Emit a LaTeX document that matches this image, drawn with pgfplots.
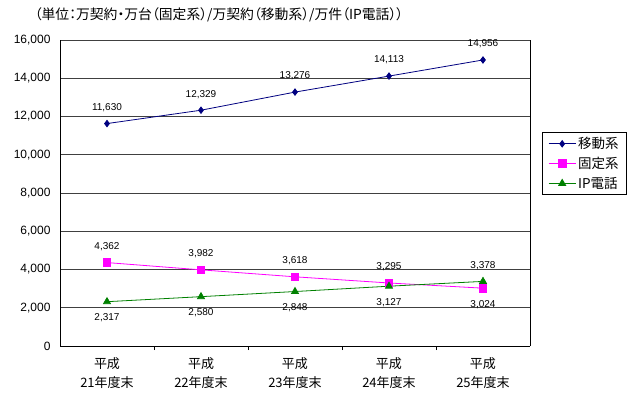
\documentclass[border=0pt]{standalone}
\usepackage{pgfplots}
\usepackage{pgfplotstable}
\pgfplotsset{compat=1.18}
\usepackage{fontspec}
\setmainfont{Liberation Sans}
\newfontfamily\cjk{Noto Sans CJK JP}
\newfontfamily\cjkp[RawFeature=+palt]{Noto Sans CJK JP}
\definecolor{mnavy}{RGB}{0,0,128}
\definecolor{mmag}{RGB}{255,0,255}
\definecolor{mgreen}{RGB}{0,128,0}

\pgfplotstableread{
x y pos
0 11630 1
1 12329 1
2 13276 1
3 14113 1
4 14956 1
}\mobile
\pgfplotstableread{
x y pos
0 4362 1
1 3982 1
2 3618 1
3 3295 1
4 3024 -1
}\fixed
\pgfplotstableread{
x y pos
0 2317 -1
1 2580 -1
2 2848 -1
3 3127 -1
4 3378 1
}\ipphone

\begin{document}
\begin{tikzpicture}[x=1pt,y=1pt]
\useasboundingbox (0,0) rectangle (640,399);
\begin{axis}[
  at={(60pt,53pt)}, anchor=south west,
  width=470pt, height=306pt, scale only axis,
  xmin=-0.5, xmax=4.5, ymin=0, ymax=16000,
  xtick={0,1,2,3,4},
  xticklabels={{平成\\21年度末},{平成\\22年度末},{平成\\23年度末},{平成\\24年度末},{平成\\25年度末}},
  xticklabel style={align=center, font=\cjk\fontsize{13}{19}\selectfont, yshift=-8pt},
  minor xtick={0.5,1.5,2.5,3.5},
  major tick length=0pt, minor tick length=4pt, tick align=outside,
  minor tick style={black, line width=0.6pt},
  ytick={0,2000,...,16000},
  scaled y ticks=false,
  yticklabel style={font=\fontsize{12}{14}\selectfont, xshift=-6pt},
  /pgf/number format/.cd, 1000 sep={,}, fixed, assume math mode=true,
  /pgfplots/.cd,
  ymajorgrids, grid style={black!75, line width=0.6pt},
  axis line style={black, line width=0.7pt},
  axis y line*=left, axis x line*=bottom,
  clip=false,
  nodes near coords,
  visualization depends on={\thisrow{pos}\as\pos},
  nodes near coords style={anchor=center, yshift=\pos*16pt, text=black, font=\fontsize{10}{12}\selectfont},
  legend style={at={(1.0255,0.699)}, anchor=north west, draw=black, line width=0.6pt,
    font=\cjk\fontsize{13.5}{15}\selectfont, inner xsep=6pt, inner ysep=3pt,
    row sep=3pt, cells={anchor=west}},
  legend image code/.code={\draw[mark repeat=2,mark phase=2] plot coordinates {(0pt,0pt)(13.5pt,0pt)(27pt,0pt)};},
]
\draw[black, line width=0.7pt] (axis cs:4.5,0) -- (axis cs:4.5,16000);
\addplot[mnavy, line width=0.8pt, mark=diamond*, mark size=3.2pt, mark options={fill=mnavy}] table[x=x,y=y] {\mobile};
\addlegendentry{移動系}
\addplot[mmag, line width=0.8pt, mark=square*, mark size=3.8pt, mark options={fill=mmag}] table[x=x,y=y] {\fixed};
\addlegendentry{固定系}
\addplot[mgreen, line width=0.8pt, mark=triangle*, mark size=4pt, mark options={fill=mgreen}] table[x=x,y=y] {\ipphone};
\addlegendentry{IP電話}
\end{axis}
\node[font=\cjkp\fontsize{13.8}{15}\selectfont] at (219,384) {（単位：万契約・万台（固定系）/万契約（移動系）/万件（IP電話））};
\end{tikzpicture}
\end{document}
